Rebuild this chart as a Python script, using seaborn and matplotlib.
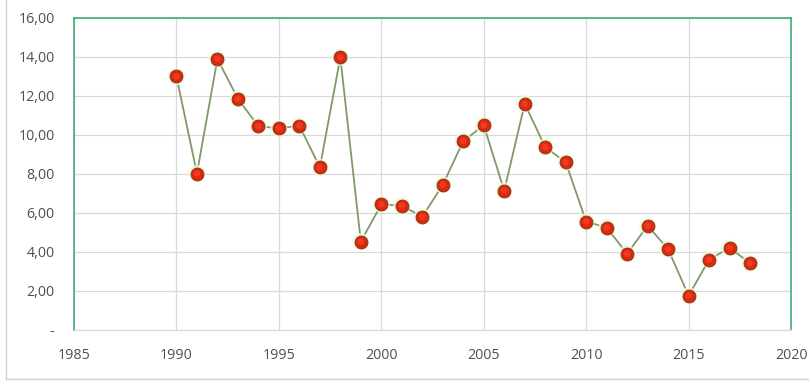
import matplotlib
matplotlib.use("Agg")
import matplotlib.pyplot as plt
from matplotlib.ticker import FuncFormatter
from matplotlib.lines import Line2D
import seaborn as sns
import pandas as pd

years = list(range(1990, 2019))
values = [13.00, 8.02, 13.90, 11.85, 10.45, 10.34, 10.48, 8.34, 13.98, 4.53,
          6.44, 6.38, 5.81, 7.44, 9.69, 10.50, 7.14, 11.60, 9.38, 8.60,
          5.56, 5.25, 3.91, 5.35, 4.14, 1.76, 3.61, 4.22, 3.42]
x_ticks = [1985, 1990, 1995, 2000, 2005, 2010, 2015, 2020]
y_ticks = [0, 2, 4, 6, 8, 10, 12, 14, 16]

df = pd.DataFrame({"year": years, "value": values})

sns.set_theme(style="white")
plt.rcParams["font.family"] = ["Open Sans", "DejaVu Sans"]

fig = plt.figure(figsize=(8.09, 3.81), dpi=100)
ax = fig.add_axes([0.0915, 0.1339, 0.8863, 0.8189])

# outer chart frame (left and bottom edges)
fig.lines.append(Line2D([0.0075, 0.0075], [0.005, 1.0], transform=fig.transFigure,
                        color="#d0d0d0", linewidth=1.0))
fig.lines.append(Line2D([0.0075, 1.0], [0.005, 0.005], transform=fig.transFigure,
                        color="#d0d0d0", linewidth=1.0))

sns.lineplot(data=df, x="year", y="value", ax=ax, color="#7f9a66", linewidth=1.3,
             zorder=3)
# soft glow behind the markers
sns.scatterplot(data=df, x="year", y="value", ax=ax, s=150, color="#f2f7da",
                edgecolor="none", alpha=0.8, zorder=4, legend=False)
sns.scatterplot(data=df, x="year", y="value", ax=ax, s=85, color="#e0260e",
                edgecolor="#7e3b16", linewidth=0.7, zorder=5, legend=False)
sns.scatterplot(data=df, x="year", y="value", ax=ax, s=22, color="#f2462a",
                edgecolor="none", alpha=0.7, zorder=6, legend=False)

ax.set_xlim(1985, 2020)
ax.set_ylim(0, 16)
ax.set_xticks(x_ticks)
ax.set_yticks(y_ticks)
ax.yaxis.set_major_formatter(FuncFormatter(
    lambda v, p: "-" if v == 0 else f"{v:.2f}".replace(".", ",")))
ax.set_xlabel("")
ax.set_ylabel("")
ax.grid(True, color="#d9d9d9", linewidth=0.9)
ax.set_axisbelow(True)

for side in ("top", "left", "right"):
    ax.spines[side].set_color("#3fae72")
    ax.spines[side].set_linewidth(1.2)
ax.spines["bottom"].set_color("#d9d9d9")
ax.spines["bottom"].set_linewidth(0.9)

ax.tick_params(axis="both", length=0, labelsize=10.3, colors="#505050")
ax.tick_params(axis="y", pad=14)
ax.tick_params(axis="x", pad=13)

fig.savefig("out.png", dpi=100)
